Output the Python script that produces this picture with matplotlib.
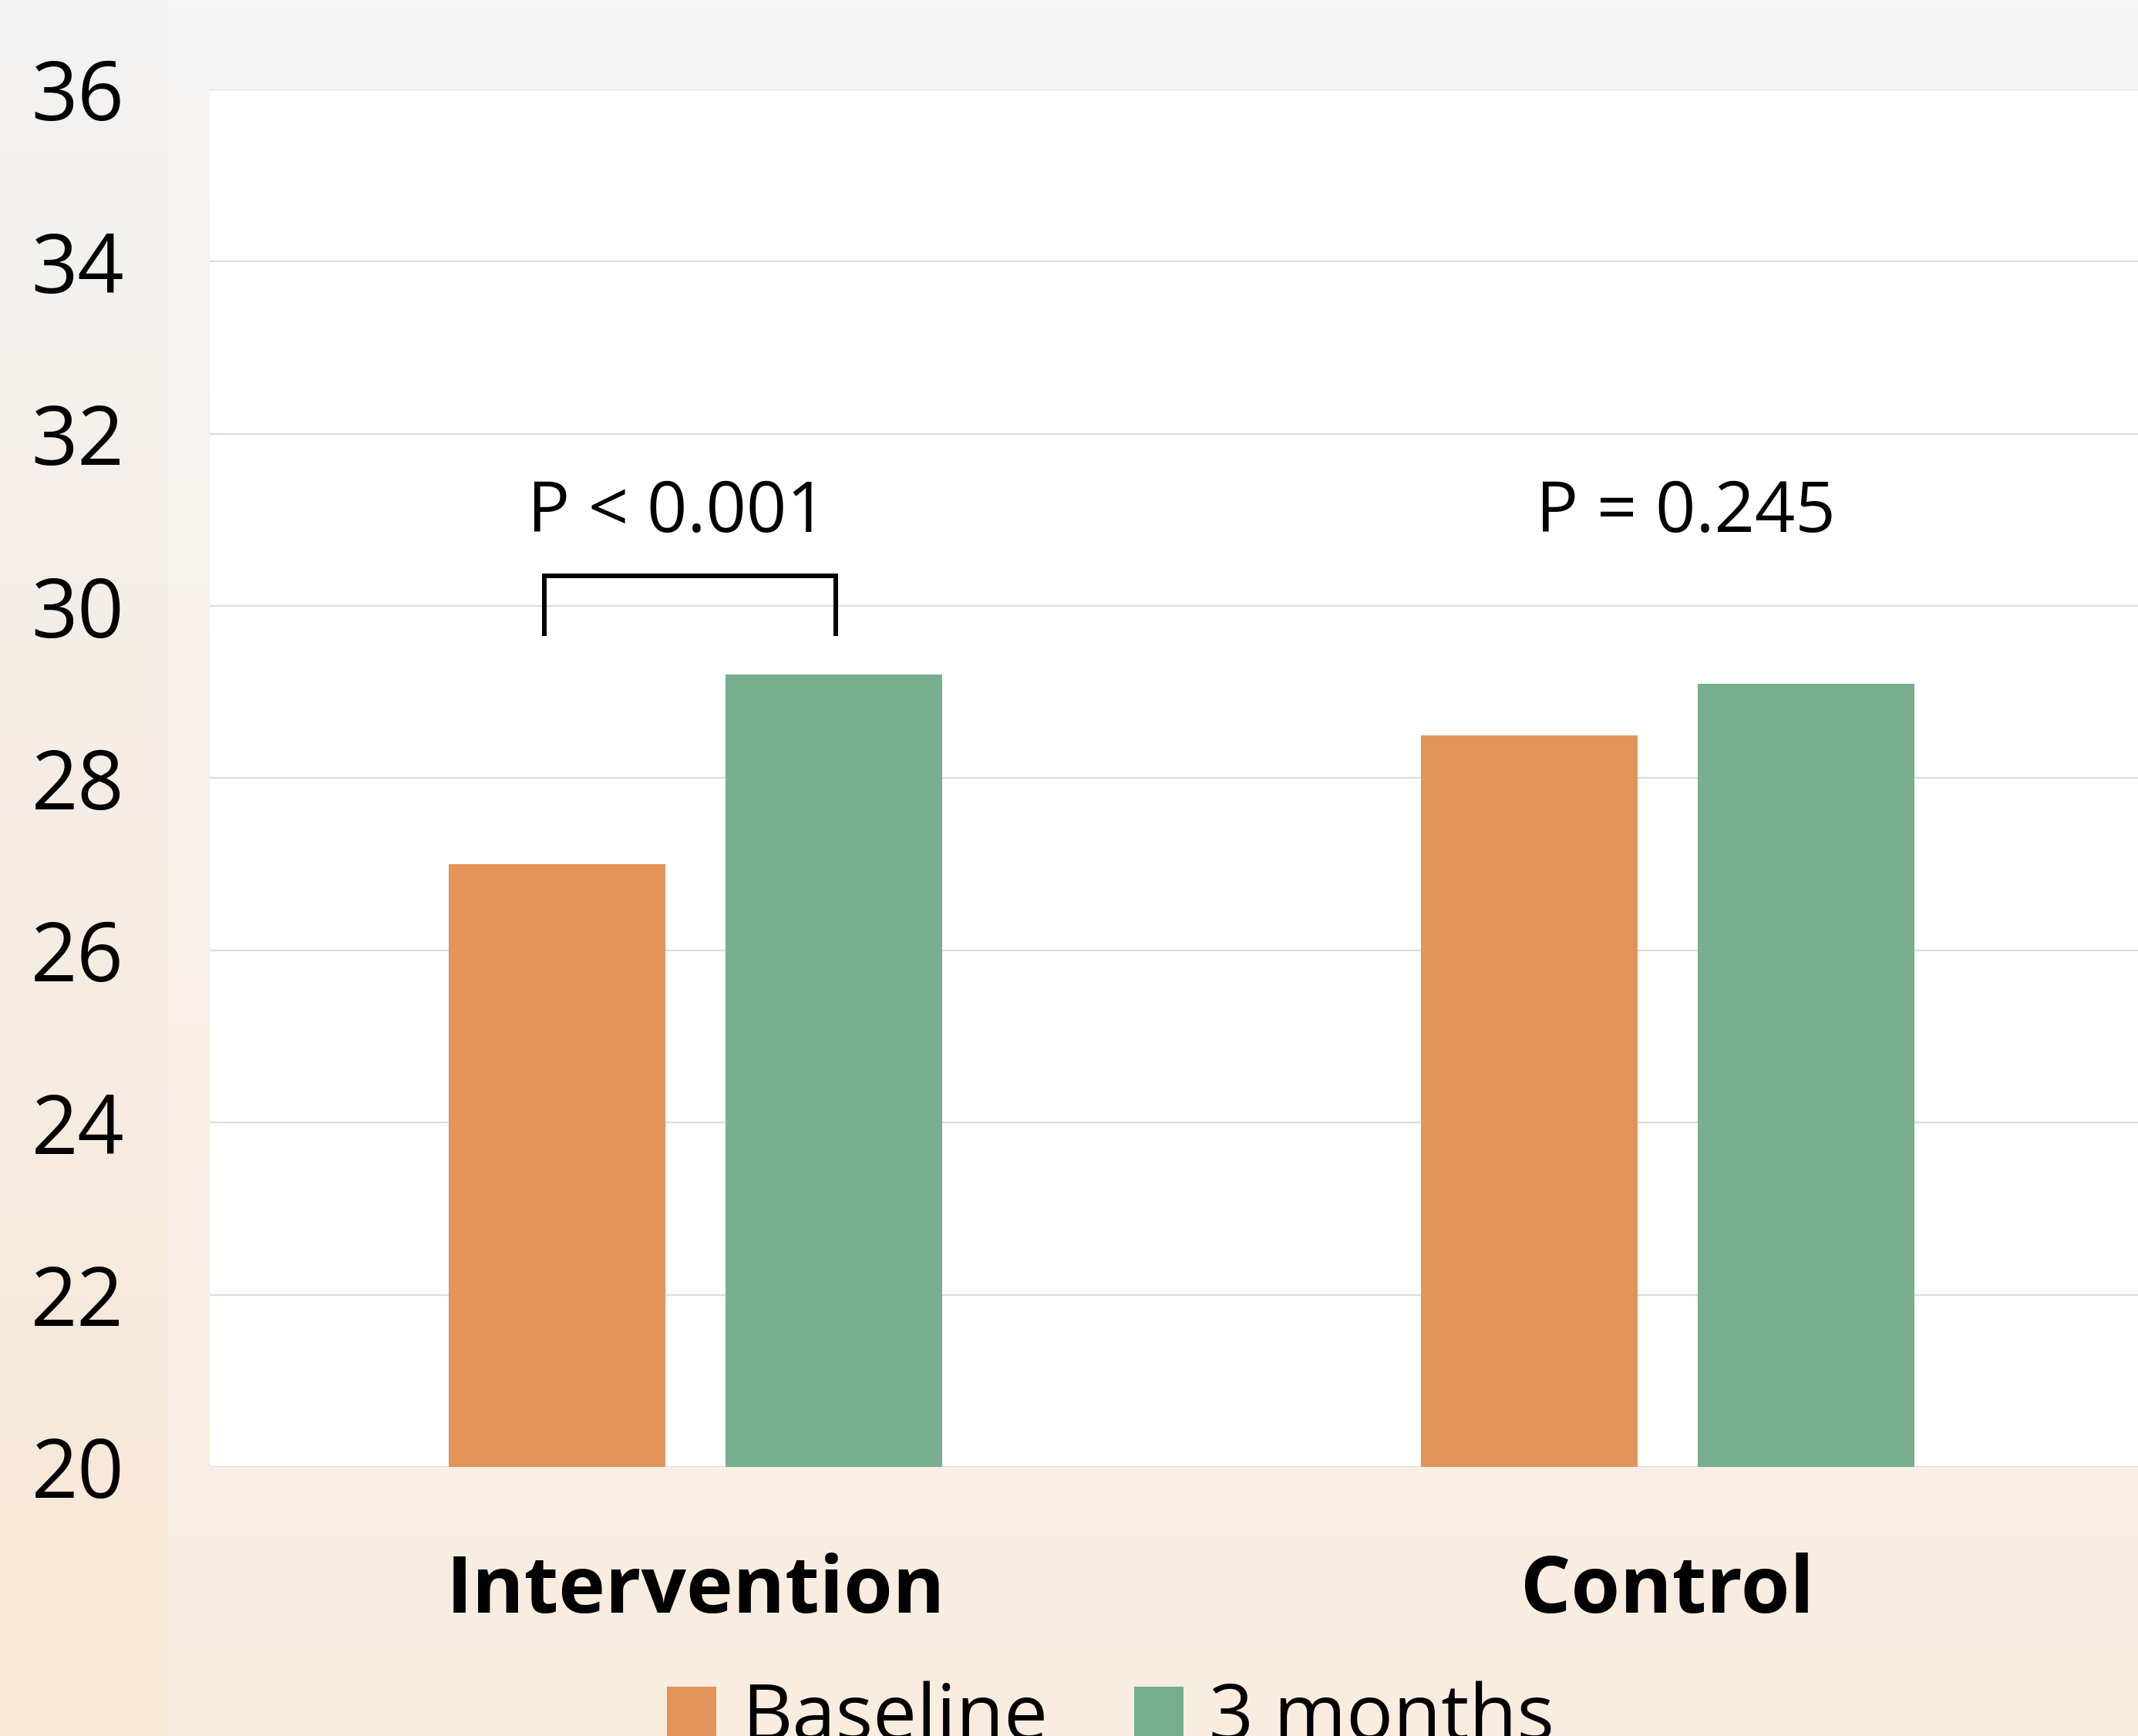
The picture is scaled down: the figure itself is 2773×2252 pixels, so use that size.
import matplotlib.pyplot as plt
import numpy as np
from matplotlib.colors import LinearSegmentedColormap

# data
groups = ['Intervention', 'Control']
series = ['Baseline', '3 months']
baseline = [27.0, 28.5]
three_months = [29.2, 29.1]
p_labels = ['P < 0.001', 'P = 0.245']
p_bracket = [True, False]
yticks = [20, 22, 24, 26, 28, 30, 32, 34, 36]

ORANGE = '#E3945A'
GREEN = '#76AE8E'

plt.rcParams['font.family'] = ['Open Sans', 'DejaVu Sans']

fig = plt.figure(figsize=(27.73, 22.52), dpi=100)

# background: soft grey -> peach gradient, with a slightly darker strip on the left
bg = fig.add_axes([0, 0, 1, 1], zorder=-10)
grad = np.linspace(0, 1, 256).reshape(-1, 1)
main_cmap = LinearSegmentedColormap.from_list('bg', ['#f6f6f6', '#faede0'])
strip_cmap = LinearSegmentedColormap.from_list('strip', ['#f3f3f3', '#f8e7d5'])
bg.imshow(grad, aspect='auto', cmap=main_cmap, extent=[0, 1, 0, 1], origin='upper')
bg.imshow(grad, aspect='auto', cmap=strip_cmap, extent=[0, 0.0783, 0, 1], origin='upper')
bg.set_xlim(0, 1)
bg.set_ylim(0, 1)
bg.axis('off')

ax = fig.add_axes([0.0981, 0.155, 0.9091, 0.7935])
ax.set_facecolor('white')

x = np.arange(len(groups))
w = 0.223
off = 0.1424
b1 = ax.bar(x - off, baseline, w, color=ORANGE, label=series[0], zorder=2)
b2 = ax.bar(x + off, three_months, w, color=GREEN, label=series[1], zorder=2)

ax.set_xlim(-0.5, 1.5)
ax.set_ylim(20, 36)
ax.set_yticks(yticks)
ax.yaxis.grid(True, color='#dddddd', lw=1.6)
ax.set_axisbelow(True)
for s in ax.spines.values():
    s.set_visible(False)

ax.tick_params(axis='y', length=0, pad=80, labelsize=76)
ax.set_xticks(x, groups, fontsize=74, fontweight='bold')
ax.tick_params(axis='x', length=0, pad=80)

# p-value annotations
for i, (lab, br) in enumerate(zip(p_labels, p_bracket)):
    ax.text(x[i] - 0.019 if br else x[i] + 0.019, 30.86, lab, fontsize=66,
            ha='center', va='baseline')
    if br:
        ax.plot([x[i] - off - 0.013, x[i] - off - 0.013, x[i] + off + 0.002, x[i] + off + 0.002],
                [29.65, 30.35, 30.35, 29.65], color='black', lw=4.3,
                solid_joinstyle='miter', solid_capstyle='butt', zorder=3)

fig.legend(handles=[b1, b2], labels=series, loc='center', bbox_to_anchor=(0.5195, 0.0093),
           ncol=2, frameon=False, fontsize=73, handlelength=0.63, handleheight=0.63,
           handletextpad=0.33, columnspacing=1.1)

fig.savefig('out.png', dpi=100)
